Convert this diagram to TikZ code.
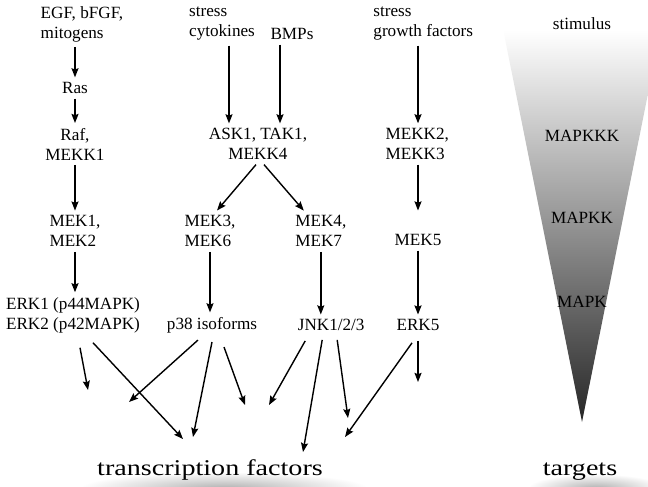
\documentclass[tikz,border=0pt]{standalone}
\usepackage{fontspec}
\setmainfont{Liberation Serif}
\usetikzlibrary{arrows.meta,calc,backgrounds}

\begin{document}
\begin{tikzpicture}[font=\fontsize{12.2}{14.2}\selectfont,
  ar/.style={line width=1pt,-{Stealth[length=6.5pt,width=5pt,inset=1pt]}},
  floor/.style={font=\fontsize{20}{24}\selectfont,yscale=0.8,transform shape}]
\useasboundingbox (0,0) rectangle (16.2,-12.15);
\shade[top color=white,middle color=black!28,bottom color=black!85]
  (12.58,-0.75) -- (16.52,-0.75) -- (14.55,-10.55) -- cycle;
\shade[inner color=black!30,outer color=white] (5.6,-12.2) ellipse (3.6 and 0.4);
\shade[inner color=black!30,outer color=white] (14.9,-12.2) ellipse (1.7 and 0.35);
\node[align=left] (egf) at (2.05,-0.6) {EGF, bFGF,\\mitogens};
\node (ras) at (1.875,-2.2) {Ras};
\node[align=center] (raf) at (1.875,-3.6) {Raf,\\MEKK1};
\node[align=left] (mek12) at (1.875,-5.78) {MEK1,\\MEK2};
\node[align=left] (erk12) at (1.825,-7.875) {ERK1 (p44MAPK)\\ERK2 (p42MAPK)};
\node[align=left] (cyt) at (5.55,-0.6) {stress\\cytokines};
\node (bmp) at (7.3,-0.85) {BMPs};
\node[align=center] (ask) at (6.45,-3.6) {ASK1, TAK1,\\MEKK4};
\node[align=left] (mek36) at (5.25,-5.78) {MEK3,\\MEK6};
\node[align=left] (mek47) at (8.02,-5.78) {MEK4,\\MEK7};
\node (p38) at (5.3,-8.13) {p38 isoforms};
\node (jnk) at (8.28,-8.13) {JNK1/2/3};
\node[align=left] (gf) at (10.58,-0.6) {stress\\growth factors};
\node[align=left] (mekk23) at (10.43,-3.6) {MEKK2,\\MEKK3};
\node (mek5) at (10.45,-6.0) {MEK5};
\node (erk5) at (10.45,-8.13) {ERK5};
\node (stim) at (14.55,-0.58) {stimulus};
\node (mapkkk) at (14.55,-3.4) {MAPKKK};
\node (mapkk) at (14.55,-5.45) {MAPKK};
\node (mapk) at (14.55,-7.55) {MAPK};
\node[floor] (tf) at (5.25,-11.75) {transcription factors};
\node[floor] (tgt) at (14.5,-11.8) {targets};
\coordinate (t1) at (2.2,-9.75);
\coordinate (t2) at (4.575,-10.975);
\coordinate (t3) at (3.225,-10.05);
\coordinate (t4) at (4.825,-10.925);
\coordinate (t5) at (6.125,-10.125);
\coordinate (t6) at (6.725,-10.125);
\coordinate (t7) at (7.575,-11.3);
\coordinate (t8) at (8.7,-10.45);
\coordinate (t9) at (8.625,-10.925);
\coordinate (t10) at (10.45,-9.55);
\draw[ar] (ras |- egf.south) -- (ras);
\draw[ar] (ras) -- (raf);
\draw[ar] (raf) -- (mek12);
\draw[ar] (mek12) -- (mek12 |- erk12.north);
\draw[ar] ([xshift=0.175cm]cyt.south) -- ([xshift=0.175cm]cyt.south |- ask.north);
\draw[ar] ([xshift=-0.3cm]bmp.south) -- ([xshift=-0.3cm]bmp.south |- ask.north);
\draw[ar] ([xshift=-0.05cm]ask.south) -- ([xshift=0.175cm]mek36.north);
\draw[ar] ([xshift=0.15cm]ask.south) -- ([xshift=-0.425cm]mek47.north);
\draw[ar] (mek36) -- (mek36 |- p38.north);
\draw[ar] (mek47) -- (mek47 |- jnk.north);
\draw[ar] (mek5 |- gf.south) -- (mek5 |- mekk23.north);
\draw[ar] (mek5 |- mekk23.south) -- (mek5 |- mek36.north);
\draw[ar] (mek5) -- (erk5);
\foreach \n/\dx/\dy/\t in {erk12/0.175/-0.25/t1, erk12/0.5/-0.125/t2,
    p38/-0.35/-0.05/t3, p38/0/-0.1/t4, p38/0.3/-0.225/t5,
    jnk/-0.65/-0.125/t6, jnk/-0.225/-0.1/t7, jnk/0.15/-0.1/t8,
    erk5/-0.15/-0.175/t9, erk5/0/-0.125/t10}
  \draw[ar] ([xshift=\dx cm,yshift=\dy cm]\n.south) -- (\t);
\end{tikzpicture}
\end{document}
